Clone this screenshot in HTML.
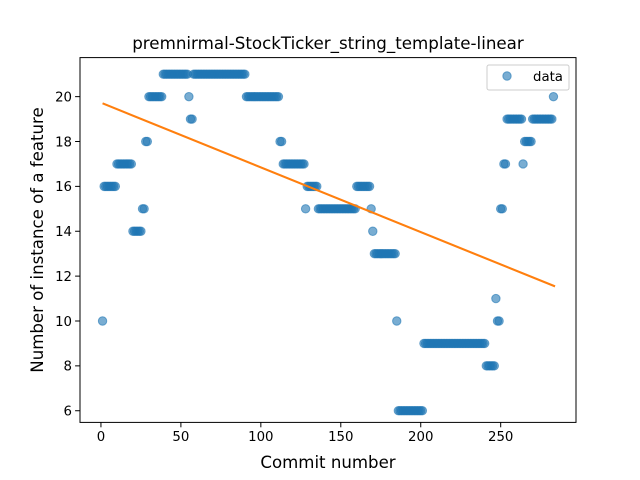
<!DOCTYPE html>
<html><head><meta charset="utf-8"><style>
body{margin:0;background:#fff}
svg{display:block;font-family:"DejaVu Sans","Liberation Sans",sans-serif}
</style></head><body>
<svg id="chart" width="640" height="480" viewBox="0 0 640 480">
<rect width="640" height="480" fill="#fff"/>
<text x="328" y="49" font-size="16.7" text-anchor="middle">premnirmal-StockTicker_string_template-linear</text>
<g id="plot"></g>
<rect x="80" y="57.6" width="496" height="364.8" fill="none" stroke="#000" stroke-width="1"/>
<g id="xt"></g>
<g id="yt"></g>
<text x="328" y="468" font-size="16.6" text-anchor="middle">Commit number</text>
<text transform="translate(43,240) rotate(-90)" font-size="16.6" text-anchor="middle">Number of instance of a feature</text>
<g>
<rect x="487" y="65" width="82" height="25" rx="2" fill="#fff" fill-opacity="0.8" stroke="#ccc"/>
<circle cx="507" cy="76" r="4.2" fill="#1f77b4" fill-opacity="0.6" stroke="#1f77b4" stroke-opacity="0.6"/>
<text x="533" y="81" font-size="13.3">data</text>
</g>
</svg>
<script>
const values = [10,
16,16,16,16,16,16,16,16,
17,17,17,17,17,17,17,17,17,17,
14,14,14,14,14,14,
15,15,
18,18,
20,20,20,20,20,20,20,20,20,
21,21,21,21,21,21,21,21,21,21,21,21,21,21,21,21,
20,
19,19,
21,21,21,21,21,21,21,21,21,21,21,21,21,21,21,21,21,21,21,21,21,21,21,21,21,21,21,21,21,21,21,21,21,
20,20,20,20,20,20,20,20,20,20,20,20,20,20,20,20,20,20,20,20,20,
18,18,
17,17,17,17,17,17,17,17,17,17,17,17,17,17,
15,
16,16,16,16,16,16,16,
15,15,15,15,15,15,15,15,15,15,15,15,15,15,15,15,15,15,15,15,15,15,15,15,
16,16,16,16,16,16,16,16,16,
15,
14,
13,13,13,13,13,13,13,13,13,13,13,13,13,13,
10,
6,6,6,6,6,6,6,6,6,6,6,6,6,6,6,6,
9,9,9,9,9,9,9,9,9,9,9,9,9,9,9,9,9,9,9,9,9,9,9,9,9,9,9,9,9,9,9,9,9,9,9,9,9,9,9,
8,8,8,8,8,8,
11,
10,10,
15,15,
17,17,
19,19,19,19,19,19,19,19,19,19,
17,
18,18,18,18,18,
19,19,19,19,19,19,19,19,19,19,19,19,19,
20];
const xTicks = [0,50,100,150,200,250];
const yTicks = [6,8,10,12,14,16,18,20];
const NS='http://www.w3.org/2000/svg';
const xmin=-13.1,xmax=297.1,ymin=5.48,ymax=21.74;
const X=v=>80+(v-xmin)/(xmax-xmin)*496;
const Y=v=>422.4-(v-ymin)/(ymax-ymin)*364.8;
function mk(t,a,p){const e=document.createElementNS(NS,t);for(const k in a)e.setAttribute(k,a[k]);p.appendChild(e);return e;}
const plot=document.getElementById('plot');
values.forEach((v,i)=>{
  const c=mk('circle',{cx:X(i+1),cy:Y(v),r:4.2,fill:'#1f77b4','fill-opacity':0.6,stroke:'#1f77b4','stroke-opacity':0.6},plot);
  
  
});
const n=values.length;let sx=0,sy=0,sxx=0,sxy=0;
values.forEach((v,i)=>{const x=i+1;sx+=x;sy+=v;sxx+=x*x;sxy+=x*v;});
const b=(n*sxy-sx*sy)/(n*sxx-sx*sx),a=(sy-b*sx)/n;
const x0=1,x1=n+1;
const ln=mk('line',{x1:X(x0),y1:Y(a+b*x0),x2:X(x1),y2:Y(a+b*x1),stroke:'#ff7f0e','stroke-width':2.1},plot);


const xt=document.getElementById('xt'),yt=document.getElementById('yt');
xTicks.forEach(t=>{
  const l=mk('line',{x1:X(t),x2:X(t),y1:422.4,y2:427.3,stroke:'#000','stroke-width':1},xt);
  
  
  const tx=mk('text',{x:X(t),y:441,'font-size':13.3,'text-anchor':'middle'},xt);
  tx.textContent=t;
  
  
});
yTicks.forEach(t=>{
  const l=mk('line',{x1:75.1,x2:80,y1:Y(t),y2:Y(t),stroke:'#000','stroke-width':1},yt);
  
  
  const tx=mk('text',{x:72,y:Y(t)+4.8,'font-size':13.3,'text-anchor':'end'},yt);
  tx.textContent=t;
  
  
});
</script>
</body></html>
